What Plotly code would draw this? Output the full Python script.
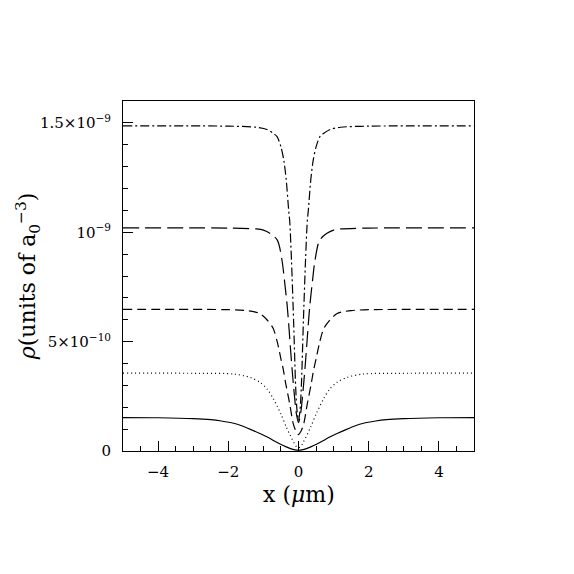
import plotly.graph_objects as go

# Data (x in micrometres, density in units of 1e-10 a0^-3)
x_solid = [-5, -4, -3, -2.5, -2.2, -1.85, -1.6, -1.37, -1.1, -0.89, -0.7, -0.51, -0.35, -0.23, -0.1, 0,
           0.1, 0.23, 0.35, 0.51, 0.7, 0.89, 1.1, 1.37, 1.6, 1.85, 2.2, 2.5, 3, 4, 5]
y_solid = [1.53, 1.52, 1.48, 1.43, 1.37, 1.27, 1.14, 0.99, 0.80, 0.64, 0.47, 0.31, 0.19, 0.11, 0.05, 0.03,
           0.05, 0.11, 0.19, 0.31, 0.47, 0.64, 0.80, 0.99, 1.14, 1.27, 1.37, 1.43, 1.48, 1.52, 1.53]

x_dot = [-5, -2.8, -1.85, -1.37, -1.09, -0.89, -0.71, -0.51, -0.34, -0.13, -0.06, 0,
         0.06, 0.13, 0.34, 0.51, 0.71, 0.89, 1.09, 1.37, 1.85, 2.8, 5]
y_dot = [3.56, 3.55, 3.52, 3.36, 3.13, 2.83, 2.37, 1.72, 1.07, 0.38, 0.20, 0.15,
         0.20, 0.38, 1.07, 1.72, 2.37, 2.83, 3.13, 3.36, 3.52, 3.55, 3.56]

x_dash = [-5, -2, -1.5, -1.25, -1.09, -0.9, -0.72, -0.6, -0.5, -0.43, -0.36, -0.25, -0.15, -0.07, 0,
          0.07, 0.15, 0.25, 0.36, 0.43, 0.5, 0.6, 0.72, 0.9, 1.09, 1.25, 1.5, 2, 5]
y_dash = [6.47, 6.46, 6.42, 6.36, 6.27, 6.0, 5.6, 4.95, 4.2, 3.7, 3.05, 2.15, 1.25, 0.9, 0.75,
          0.9, 1.25, 2.15, 3.05, 3.7, 4.2, 4.95, 5.6, 6.0, 6.27, 6.36, 6.42, 6.46, 6.47]

x_ldash = [-5, -2, -1.2, -1.0, -0.8, -0.6, -0.47, -0.4, -0.32, -0.27, -0.22, -0.17, -0.12, -0.06, 0,
           0.06, 0.12, 0.17, 0.22, 0.27, 0.32, 0.4, 0.47, 0.6, 0.8, 1.0, 1.2, 2, 5]
y_ldash = [10.2, 10.19, 10.15, 10.1, 9.94, 9.63, 8.72, 7.8, 6.6, 5.6, 4.5, 3.5, 2.6, 1.7, 1.3,
           1.7, 2.6, 3.5, 4.5, 5.6, 6.6, 7.8, 8.72, 9.63, 9.94, 10.1, 10.15, 10.19, 10.2]

x_dashdot = [-5, -2, -1.2, -0.9, -0.7, -0.61, -0.5, -0.42, -0.35, -0.28, -0.25, -0.2, -0.14, -0.08, -0.04, 0,
             0.04, 0.08, 0.14, 0.2, 0.25, 0.28, 0.35, 0.42, 0.5, 0.61, 0.7, 0.9, 1.2, 2, 5]
y_dashdot = [14.86, 14.85, 14.8, 14.7, 14.5, 14.37, 13.9, 13.3, 12.4, 11.0, 10.5, 8.72, 5.96, 2.9, 1.8, 1.4,
             1.8, 2.9, 5.96, 8.72, 10.5, 11.0, 12.4, 13.3, 13.9, 14.37, 14.5, 14.7, 14.8, 14.85, 14.86]

scale = 1e-10

y_tick_vals = [0, 5e-10, 1e-9, 1.5e-9]
y_tick_text = ["0", "5×10<sup>−10</sup>", "10<sup>−9</sup>", "1.5×10<sup>−9</sup>"]
x_tick_vals = [-4, -2, 0, 2, 4]
x_tick_text = ["−4", "−2", "0", "2", "4"]

series = [
    (x_solid, y_solid, "solid"),
    (x_dot, y_dot, "1px,3px"),
    (x_dash, y_dash, "9px,5px"),
    (x_ldash, y_ldash, "16px,6px"),
    (x_dashdot, y_dashdot, "9px,3px,2px,3px"),
]

fig = go.Figure()
for xs, ys, dash in series:
    fig.add_trace(go.Scatter(
        x=xs, y=[v * scale for v in ys], mode="lines",
        line=dict(color="black", width=1.2, dash=dash, shape="spline", smoothing=0.8),
        showlegend=False, hoverinfo="skip"))

font = "DejaVu Serif"
fig.update_layout(
    width=574, height=574,
    margin=dict(l=115, r=108, t=93, b=131),
    paper_bgcolor="white", plot_bgcolor="white",
    font=dict(family=font, color="black", size=14),
)
fig.update_xaxes(
    range=[-5, 5], showgrid=False, zeroline=False,
    showline=True, linecolor="black", linewidth=1, mirror=True,
    ticks="inside", ticklen=10, tickwidth=1, tickcolor="black",
    tickvals=x_tick_vals, ticktext=x_tick_text, ticklabelstandoff=7,
    minor=dict(ticks="inside", dtick=0.5, tick0=0, ticklen=5, tickcolor="black", tickwidth=1),
    tickfont=dict(family=font, size=15),
)
fig.update_yaxes(
    range=[0, 1.6e-9], showgrid=False, zeroline=False,
    showline=True, linecolor="black", linewidth=1, mirror=True,
    ticks="inside", ticklen=10, tickwidth=1, tickcolor="black",
    tickvals=y_tick_vals, ticktext=y_tick_text, ticklabelstandoff=8,
    minor=dict(ticks="inside", dtick=1e-10, tick0=0, ticklen=5, tickcolor="black", tickwidth=1),
    tickfont=dict(family=font, size=15),
)
fig.add_annotation(text="x (<i>μ</i>m)", xref="paper", yref="paper", x=0.5, y=-0.125,
                   xanchor="center", yanchor="middle", showarrow=False,
                   font=dict(family=font, size=22))
fig.add_annotation(text="<i>ρ</i>(units of a<sub>0</sub><sup>−3</sup>)", xref="paper", yref="paper",
                   x=-0.27, y=0.5, textangle=-90,
                   xanchor="center", yanchor="middle", showarrow=False,
                   font=dict(family=font, size=22))

fig.write_html("out.html")
